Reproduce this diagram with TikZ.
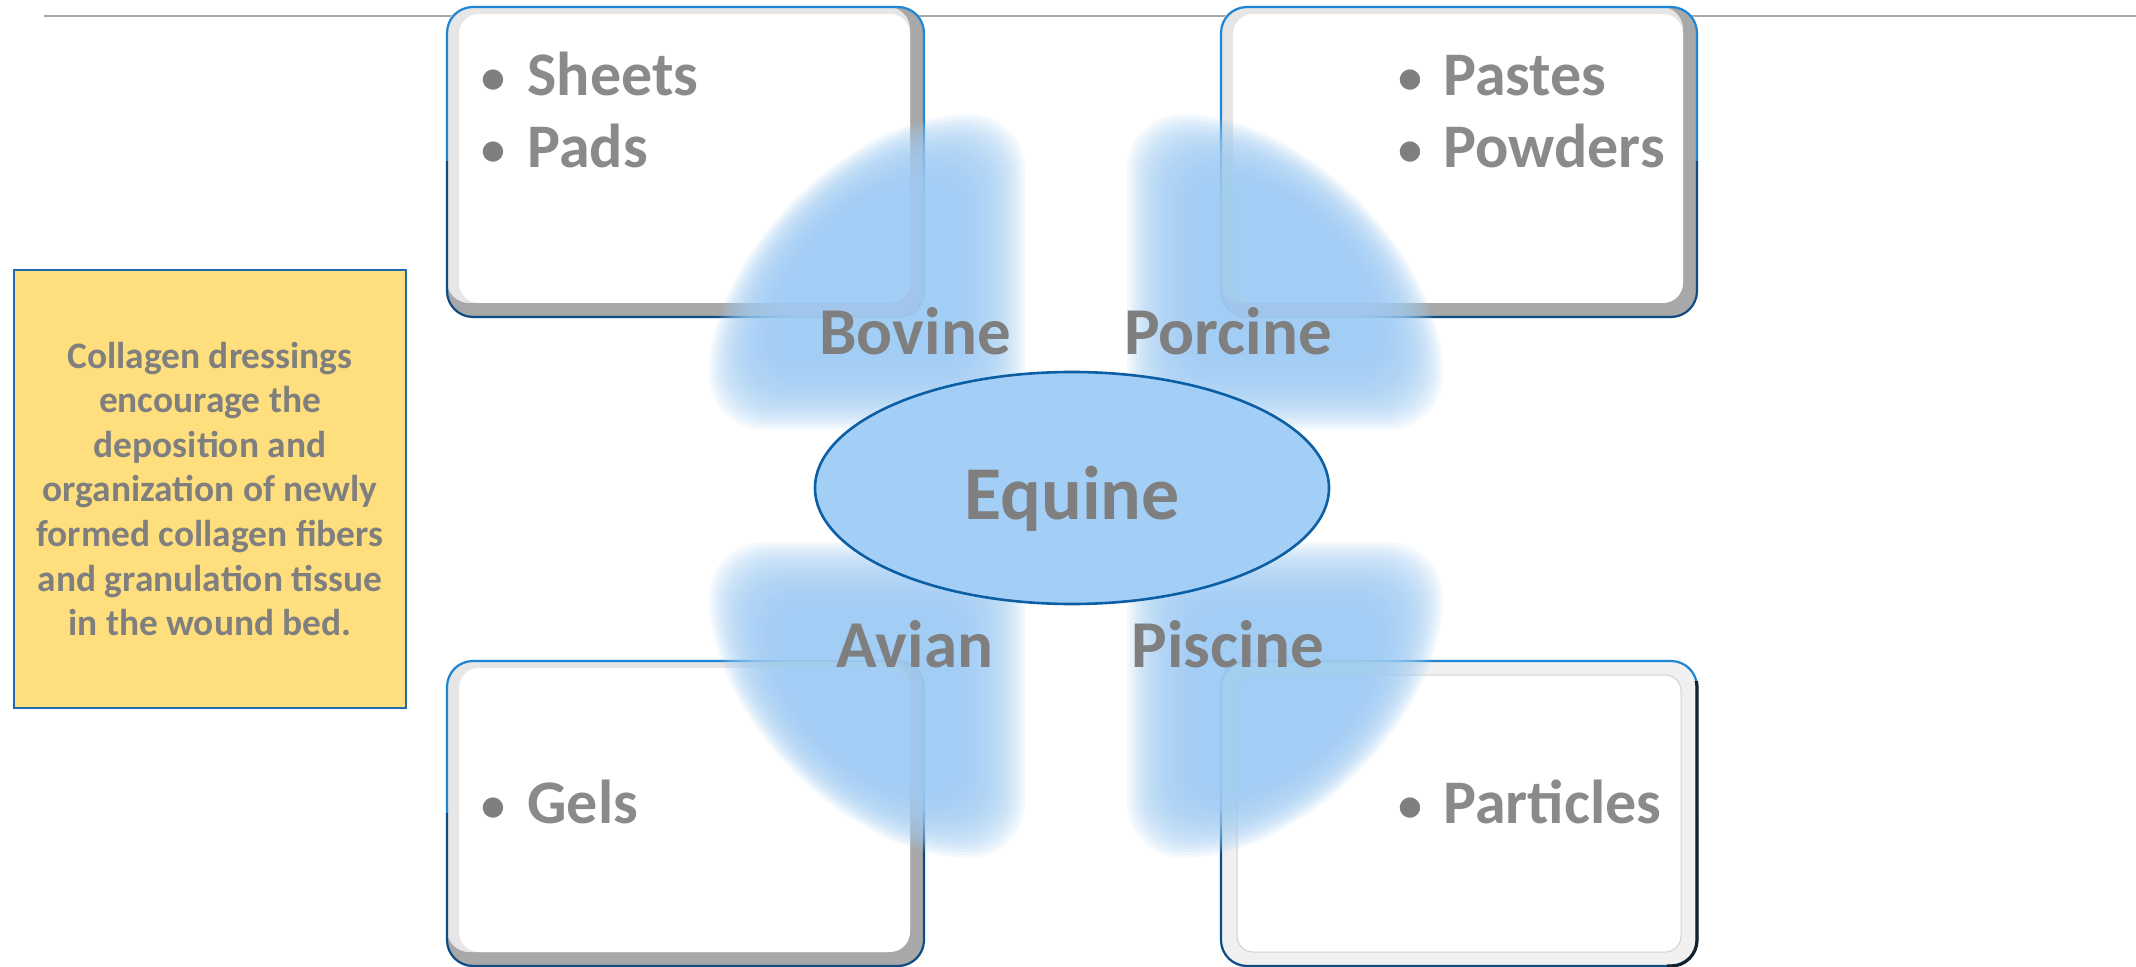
\documentclass[tikz,border=0pt]{standalone}
\usepackage{fontspec}
\setmainfont{Carlito}
\usetikzlibrary{shapes.geometric}
\definecolor{txt}{HTML}{7F7F7F}
\definecolor{boxtxt}{HTML}{8A8A8A}
\definecolor{blob}{HTML}{A2CEF5}
\definecolor{ellfill}{HTML}{A3CEF5}
\definecolor{ellline}{HTML}{0B5FA5}
\definecolor{yel}{HTML}{FFDE7D}
\definecolor{yelline}{HTML}{1F6BAE}
\definecolor{bluetop}{HTML}{1E86D6}
\definecolor{bluebot}{HTML}{0E4C86}
\definecolor{bevdark}{HTML}{A8A8A8}
\definecolor{bevlight}{HTML}{E6E6E6}
\definecolor{rulegray}{HTML}{A6A6A6}
\definecolor{darkedge}{HTML}{13202E}

\tikzset{
  lbl/.style={anchor=base, text=txt, font=\fontsize{33.5}{40}\selectfont\bfseries, inner sep=0pt},
  itemtxt/.style={anchor=base west, text=boxtxt, font=\fontsize{31}{38}\selectfont\bfseries, inner sep=0pt},
  bul/.style={anchor=base, text=txt, font=\fontsize{24}{30}\selectfont\bfseries, inner sep=0pt},
}

\newcommand\boxborder[4]{%
  \begin{scope}
    \clip (#1-10,#2-10) rectangle (#3+10,{(#2+#4)/2});
    \draw[bluetop, line width=1.1pt, rounded corners=13pt] (#1,#2) rectangle (#3,#4);
  \end{scope}
  \begin{scope}
    \clip (#1-10,{(#2+#4)/2}) rectangle (#3+10,#4+10);
    \draw[bluebot, line width=1.1pt, rounded corners=13pt] (#1,#2) rectangle (#3,#4);
  \end{scope}}

\newcommand\bevelbox[4]{%
  \fill[bevdark, rounded corners=13pt] (#1,#2) rectangle (#3,#4);
  \fill[bevlight, rounded corners=11pt] (#1,#2) rectangle (#3-14,#4-14);
  \fill[white, rounded corners=10pt] (#1+12,#2+7) rectangle (#3-14,#4-14);
  \boxborder{#1}{#2}{#3}{#4}}

\newcommand\bevelboxB[4]{%
  \fill[black!6, rounded corners=13pt] (#1,#2) rectangle (#3,#4);
  \draw[black!18, line width=0.5pt, fill=white, rounded corners=8pt] (#1+16,#2+14) rectangle (#3-16,#4-14);
  \boxborder{#1}{#2}{#3}{#4}
  \begin{scope}
    \clip (#3-30,#2+20) rectangle (#3+10,#4+10);
    \draw[darkedge, line width=1.6pt, rounded corners=13pt] (#1,#2) rectangle (#3,#4);
  \end{scope}}

% soft quarter pie: #1,#2 corner; #3,#4 signs; #5,#6 arc angles
\newcommand\blobq[6]{%
  \foreach \d in {-24,-21,...,66}{
    \pgfmathsetmacro\px{#1+(#3)*(\d)}
    \pgfmathsetmacro\py{#2+(#4)*(\d)}
    \pgfmathsetmacro\rr{268-2*(\d)}
    \pgfmathsetmacro\rho{(46-0.4*(\d))/2}
    \fill[blob, opacity=0.11, rounded corners=\rho pt]
      (\px,\py) -- ++(0,{(#4)*\rr}) arc[start angle=#5, end angle=#6, radius=\rr] -- cycle;
  }}

\begin{document}
\begin{tikzpicture}[x=0.5pt, y=-0.5pt]
\useasboundingbox (0,0) rectangle (2136,967);
\fill[white] (0,0) rectangle (2136,967);

% top rule
\draw[rulegray, line width=0.9pt] (44,16) -- (2136,16);

% corner boxes
\bevelbox{447}{7}{924}{317}
\bevelbox{1221}{7}{1697}{317}
\bevelbox{447}{661}{924}{966}
\bevelboxB{1221}{661}{1697}{966}

% soft quarter pies
\blobq{1001}{406}{-1}{-1}{270}{180}
\blobq{1151}{406}{1}{-1}{270}{360}
\blobq{1001}{566}{-1}{1}{90}{180}
\blobq{1151}{566}{1}{1}{90}{0}

% central ellipse
\node[ellipse, draw=ellline, fill=ellfill, line width=1.3pt,
      minimum width=257pt, minimum height=116pt, inner sep=0pt] (equine) at (1072,488) {};
\node[anchor=base, text=txt, font=\fontsize{38}{46}\selectfont\bfseries, inner sep=0pt] (equinetxt) at (1072,520) {Equine};

% pie labels
\node[lbl] (bovine)  at (915,355) {Bovine};
\node[lbl] (porcine) at (1228,355) {Porcine};
\node[lbl] (avian)   at (915,668) {Avian};
\node[lbl] (piscine) at (1228,668) {Piscine};

% box items
\node[bul] (b1) at (493,94) {•};
\node[itemtxt] (sheets) at (527,96) {Sheets};
\node[bul] (b2) at (493,166) {•};
\node[itemtxt] (pads) at (527,168) {Pads};

\node[bul] (b3) at (1410,94) {•};
\node[itemtxt] (pastes) at (1443,96) {Pastes};
\node[bul] (b4) at (1410,166) {•};
\node[itemtxt] (powders) at (1443,168) {Powders};

\node[bul] (b5) at (493,821) {•};
\node[itemtxt] (gels) at (527,823) {Gels};

\node[bul] (b6) at (1410,821) {•};
\node[itemtxt] (particles) at (1443,823) {Particles};

% yellow note
\node[draw=yelline, fill=yel, line width=1.4pt, minimum width=196pt, minimum height=219pt, inner sep=0pt] (note) at (210,489) {};
\node[align=center, text=txt, font=\fontsize{18.7}{22.3}\selectfont\bfseries, inner sep=0pt] (notetxt) at (210,489)
 {Collagen dressings\\encourage the\\deposition and\\organization of newly\\formed collagen fibers\\and granulation tissue\\in the wound bed.};
\end{tikzpicture}
\end{document}
